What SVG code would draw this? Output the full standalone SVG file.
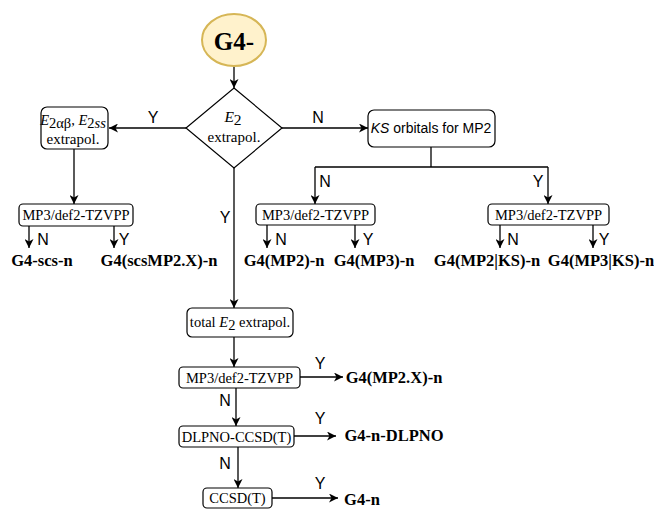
<svg xmlns="http://www.w3.org/2000/svg" width="654" height="512" viewBox="0 0 654 512">
<defs>
<marker id="arr" markerUnits="userSpaceOnUse" markerWidth="10" markerHeight="9" refX="9" refY="4.5" orient="auto">
<path d="M0,0 L9,4.5 L0,9 L2.5,4.5 Z" fill="#000"/>
</marker>
</defs>
<style>
.box{fill:#fff;stroke:#000;stroke-width:1.2}
.ln{fill:none;stroke:#000;stroke-width:1.3}
.ar{fill:none;stroke:#000;stroke-width:1.3;marker-end:url(#arr)}
.t{font-family:"Liberation Serif","Times New Roman",serif;font-size:14.5px;fill:#000;text-anchor:middle;dominant-baseline:central}
.s{font-family:"Liberation Sans",Arial,sans-serif;font-size:14px;fill:#000;text-anchor:middle;dominant-baseline:central}
.lb{font-family:"Liberation Sans",Arial,sans-serif;font-size:16px;fill:#000;text-anchor:middle;dominant-baseline:central}
.r{font-family:"Liberation Serif","Times New Roman",serif;font-size:16.5px;font-weight:bold;fill:#000;text-anchor:middle;dominant-baseline:central}
.i{font-style:italic}
</style>
<rect width="654" height="512" fill="#fff"/>
<g id="connectors">
<line class="ar" x1="234" y1="66" x2="234" y2="88"/>
<line class="ar" x1="186" y1="128" x2="109" y2="128"/>
<line class="ar" x1="282" y1="128" x2="368" y2="128"/>
<line class="ar" x1="74" y1="149" x2="74" y2="204"/>
<polyline class="ln" points="431,147 431,167"/>
<polyline class="ln" points="315,167 548,167"/>
<line class="ar" x1="315" y1="167" x2="315" y2="204"/>
<line class="ar" x1="548" y1="167" x2="548" y2="204"/>
<line class="ar" x1="29" y1="226" x2="29" y2="248"/>
<line class="ar" x1="114" y1="226" x2="114" y2="248"/>
<line class="ar" x1="267" y1="225" x2="267" y2="248"/>
<line class="ar" x1="355" y1="225" x2="355" y2="248"/>
<line class="ar" x1="500" y1="225" x2="500" y2="248"/>
<line class="ar" x1="593" y1="225" x2="593" y2="248"/>
<line class="ar" x1="234" y1="168" x2="234" y2="308"/>
<line class="ar" x1="234" y1="337" x2="234" y2="367"/>
<line class="ar" x1="300" y1="377" x2="343" y2="377"/>
<line class="ar" x1="236" y1="388" x2="236" y2="426"/>
<line class="ar" x1="294" y1="436" x2="336" y2="436"/>
<line class="ar" x1="238" y1="447" x2="238" y2="488"/>
<line class="ar" x1="272" y1="498" x2="338" y2="498"/>
<text class="lb" x="153" y="117">Y</text>
<text class="lb" x="318" y="117">N</text>
<text class="lb" x="325" y="181">N</text>
<text class="lb" x="538" y="181">Y</text>
<text class="lb" x="43" y="239">N</text>
<text class="lb" x="124" y="239">Y</text>
<text class="lb" x="281" y="239">N</text>
<text class="lb" x="368" y="239">Y</text>
<text class="lb" x="513" y="239">N</text>
<text class="lb" x="604" y="239">Y</text>
<text class="lb" x="225" y="217">Y</text>
<text class="lb" x="320" y="363">Y</text>
<text class="lb" x="225" y="400">N</text>
<text class="lb" x="320" y="418">Y</text>
<text class="lb" x="225" y="463">N</text>
<text class="lb" x="320" y="483">Y</text>
</g>
<g id="start">
<ellipse cx="234" cy="40" rx="32" ry="26" fill="#fff2cc" stroke="#d6b656" stroke-width="2"/>
<text class="r" x="234" y="41" style="font-size:25px">G4-</text>
</g>
<g id="decision">
<polygon class="box" points="234,88 282,128 234,168 186,128"/>
<text class="t" x="233" y="116" style="font-size:15.5px"><tspan class="i">E</tspan><tspan dy="3">2</tspan></text>
<text class="t" x="234" y="137" style="font-size:15px">extrapol.</text>
</g>
<g id="e2ab">
<rect class="box" x="41" y="107" width="67" height="42" rx="6"/>
<text class="t" x="73" y="120"><tspan class="i">E</tspan><tspan dy="3">2αβ</tspan><tspan dy="-3">, </tspan><tspan class="i">E</tspan><tspan dy="3">2</tspan><tspan class="i">ss</tspan></text>
<text class="t" x="73" y="139" style="font-size:15px">extrapol.</text>
</g>
<g id="ks">
<rect class="box" x="368" y="110" width="127" height="37" rx="6"/>
<text class="s" x="431" y="128"><tspan class="i">KS</tspan> orbitals for MP2</text>
</g>
<g id="mp3-left">
<rect class="box" x="19" y="204" width="114" height="22" rx="4"/>
<text class="t" x="76" y="215">MP3/def2-TZVPP</text>
</g>
<g id="mp3-mid">
<rect class="box" x="256" y="204" width="119" height="21" rx="4"/>
<text class="t" x="315.5" y="214.5">MP3/def2-TZVPP</text>
</g>
<g id="mp3-right">
<rect class="box" x="488" y="204" width="121" height="21" rx="4"/>
<text class="t" x="548.5" y="214.5">MP3/def2-TZVPP</text>
</g>
<g id="results-top">
<text class="r" x="42" y="260">G4-scs-n</text>
<text class="r" x="159" y="260">G4(scsMP2.X)-n</text>
<text class="r" x="284" y="260">G4(MP2)-n</text>
<text class="r" x="374" y="260">G4(MP3)-n</text>
<text class="r" x="487" y="260">G4(MP2|KS)-n</text>
<text class="r" x="601" y="260">G4(MP3|KS)-n</text>
</g>
<g id="total">
<rect class="box" x="187" y="308" width="106" height="29" rx="5"/>
<text class="t" x="240" y="322">total <tspan class="i">E</tspan><tspan dy="3">2</tspan><tspan dy="-3"> extrapol.</tspan></text>
</g>
<g id="mp3-bottom">
<rect class="box" x="179" y="367" width="121" height="21" rx="4"/>
<text class="t" x="239.5" y="377.5">MP3/def2-TZVPP</text>
</g>
<g id="dlpno">
<rect class="box" x="179" y="426" width="115" height="21" rx="4"/>
<text class="t" x="236.5" y="436.5">DLPNO-CCSD(T)</text>
</g>
<g id="ccsd">
<rect class="box" x="203" y="488" width="69" height="20" rx="4"/>
<text class="t" x="237.5" y="498">CCSD(T)</text>
</g>
<g id="results-bottom">
<text class="r" x="394" y="377">G4(MP2.X)-n</text>
<text class="r" x="394" y="435">G4-n-DLPNO</text>
<text class="r" x="362" y="499">G4-n</text>
</g>
</svg>
